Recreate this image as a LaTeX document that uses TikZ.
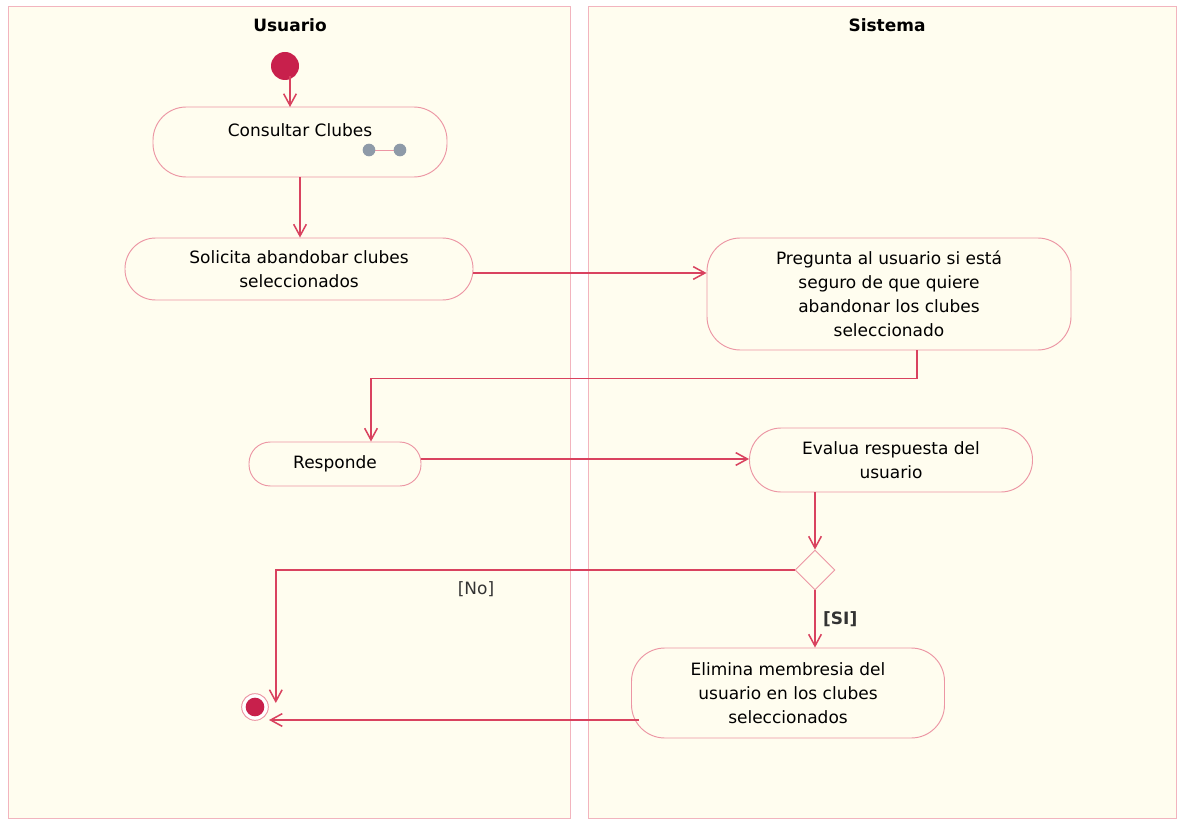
\documentclass[tikz,border=0pt]{standalone}
\usepackage{fontspec}
\setmainfont{DejaVu Sans}
\usetikzlibrary{arrows.meta,shapes.geometric,calc}
\definecolor{laneFill}{HTML}{FFFDEF}
\definecolor{laneLine}{HTML}{F2B4BE}
\definecolor{boxLine}{HTML}{EC96A4}
\definecolor{flowRed}{HTML}{D9425F}
\definecolor{dotRed}{HTML}{C8204C}
\definecolor{rakeGrey}{HTML}{8E9AA8}
\begin{document}
\begin{tikzpicture}[x=0.03cm,y=-0.03cm,
  font=\fontsize{14.5}{20.4}\selectfont,
  act/.style={draw=boxLine,line width=0.8pt,fill=laneFill,rounded corners=1cm,align=center,inner sep=0pt},
  flow/.style={draw=flowRed,line width=1.3pt,-{Straight Barb[length=3.5mm,width=3.8mm]}},
  lane/.style={draw=laneLine,line width=0.8pt,fill=laneFill},
  guard/.style={text=black!80}]
\useasboundingbox (0,0) rectangle (1179,821);
\fill[white] (0,0) rectangle (1179,821);

% swimlanes
\draw[lane] (8,6) rectangle (570,818);
\draw[lane] (588,6) rectangle (1176,818);
\node[font=\fontsize{14.5}{17}\bfseries] (usuario) at (290,25) {Usuario};
\node[font=\fontsize{14.5}{17}\bfseries] (sistema) at (887,25) {Sistema};

% start and end
\node[circle,fill=dotRed,minimum size=0.84cm,inner sep=0pt] (start) at (285,66) {};
\node[circle,draw=boxLine,line width=0.8pt,fill=white,minimum size=0.8cm,inner sep=0pt] (fin) at (255,707) {};
\fill[dotRed] (fin) circle (0.28cm);

% activities
\node[act,minimum width=8.82cm,minimum height=2.1cm] (consultar) at (300,142) {Consultar Clubes\\ \mbox{}};
\draw[boxLine,line width=0.8pt] (369,150) -- (400,150);
\fill[rakeGrey] (369,150) circle (0.19cm);
\fill[rakeGrey] (400,150) circle (0.19cm);
\node[act,rounded corners=0.92cm,minimum width=10.44cm,minimum height=1.86cm] (solicita) at (299,269) {Solicita abandobar clubes\\seleccionados};
\node[act,minimum width=10.92cm,minimum height=3.36cm] (pregunta) at (889,294) {Pregunta al usuario si está\\seguro de que quiere\\abandonar los clubes\\seleccionado};
\node[act,rounded corners=0.64cm,minimum width=5.16cm,minimum height=1.32cm] (responde) at (335,464) {Responde};
\node[act,rounded corners=0.95cm,minimum width=8.49cm,minimum height=1.92cm] (evalua) at (891,460) {Evalua respuesta del\\usuario};
\node[diamond,draw=boxLine,line width=0.8pt,fill=laneFill,minimum width=1.2cm,minimum height=1.2cm,inner sep=0pt] (decide) at (815,570) {};
\node[act,minimum width=9.39cm,minimum height=2.7cm] (elimina) at (788,693) {Elimina membresia del\\usuario en los clubes\\seleccionados};

% flows
\draw[flow] (start.south east -| 290,0) -- (290,107);
\draw[flow] (consultar.south) -- (consultar.south |- solicita.north);
\draw[flow] (solicita.east |- 0,273) -- (pregunta.west |- 0,273);
\draw[flow] ($(pregunta.south)+(28,0)$) -- ++(0,28) -| ($(responde.north)+(36,0)$);
\draw[flow] (responde.east |- 0,459) -- (evalua.west |- 0,459);
\draw[flow] (evalua.south -| decide) -- (decide.north);
\draw[flow] (decide.south) -- (decide.south |- elimina.north)
  node[pos=0.5,right=3pt,guard,font=\fontsize{14.5}{17}\bfseries] (si) {[SI]};
\draw[flow] (decide.west) -| ($(fin.east)+(7,-4)$);
\node[guard] (no) at (476,589) {[No]};
\draw[flow] ($(elimina.west)+(8,27)$) -- ($(fin)+(14,13)$);
\end{tikzpicture}
\end{document}
